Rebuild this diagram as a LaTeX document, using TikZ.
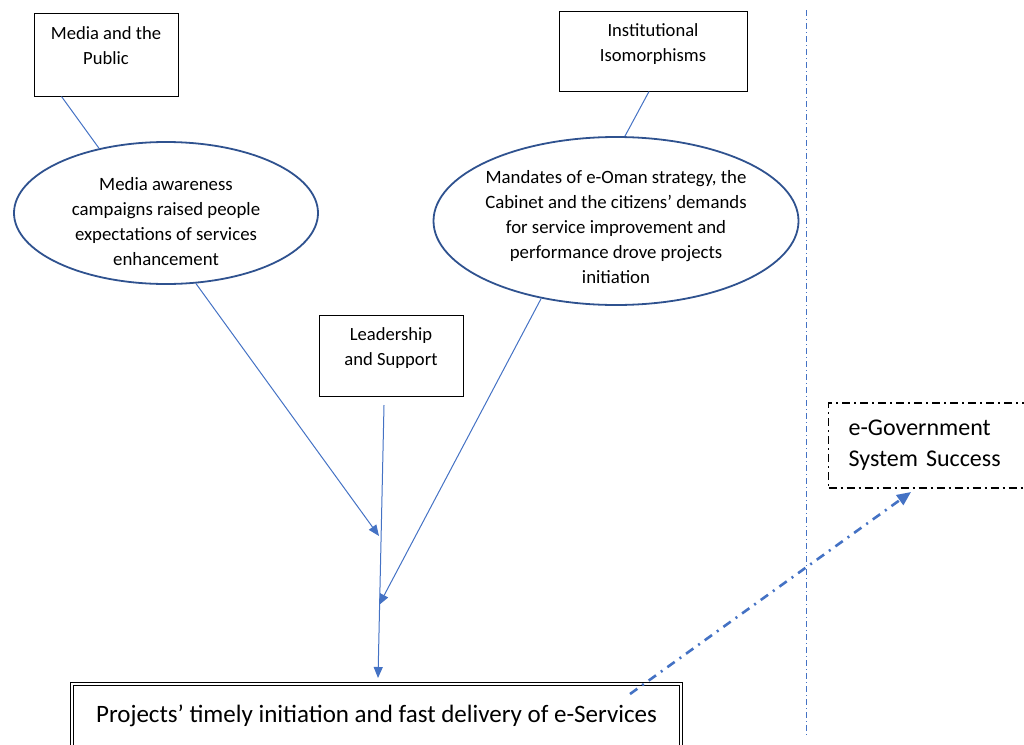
\documentclass[tikz,border=0pt]{standalone}
\usepackage{fontspec}
\setmainfont{Carlito}
\usetikzlibrary{shapes.geometric,arrows.meta}
\definecolor{linkblue}{HTML}{4472C4}
\definecolor{rimblue}{HTML}{2F528F}
\begin{document}
\begin{tikzpicture}[x=1pt,y=-1pt,
  factor/.style={draw=black,line width=1pt,fill=white,align=center,
    font=\fontsize{18.6}{25}\selectfont,inner sep=0pt},
  theme/.style={ellipse,draw=rimblue,line width=1.8pt,inner sep=0pt},
  themetext/.style={align=center,font=\fontsize{18.8}{25}\selectfont},
  link/.style={draw=linkblue,line width=1pt},
  linkarrow/.style={link,-{Triangle[length=11pt,width=9pt]}},
  outcome/.style={draw=black,line width=0.8pt,double,double distance=2pt,
    fill=white,font=\fontsize{25}{31}\selectfont,inner sep=0pt},
  success/.style={draw=black,line width=1.3pt,
    dash pattern=on 8pt off 4pt on 2pt off 4pt,
    font=\fontsize{24}{31}\selectfont,align=left,text width=180pt,
    inner xsep=20pt,inner ysep=0pt},
  boundary/.style={draw=linkblue,line width=0.9pt,
    dash pattern=on 6pt off 3pt on 1pt off 3pt},
  impact/.style={draw=linkblue,line width=2.6pt,
    dash pattern=on 9pt off 6pt on 2pt off 6pt,
    -{Triangle[length=14pt,width=12pt]}},
]
\useasboundingbox (0,0) rectangle (1024,744);
\clip (0,0) rectangle (1024,744);

% boundary of the system
\coordinate (bTop) at (806,10);
\coordinate (bBot) at (806,736);
\draw[boundary] (bTop) -- (bBot);

% contextual factors
\node[factor,minimum width=144pt,minimum height=83pt] (media) at (106,54.5)
  {Media and the\\Public\\[-8pt]~};
\node[factor,minimum width=188pt,minimum height=80pt] (inst) at (653,51)
  {Institutional\\Isomorphisms\\[-8pt]~};
\node[factor,minimum width=144pt,minimum height=81pt] (lead) at (391,355.5)
  {Leadership\\and Support\\[-8pt]~};

% themes
\node[theme,minimum width=304pt,minimum height=142pt] (e1) at (166,213) {};
\node[themetext] (e1t) at (166,221.5)
  {Media awareness\\campaigns raised people\\expectations of services\\enhancement};
\node[theme,minimum width=365pt,minimum height=168pt] (e2) at (616,221) {};
\node[themetext] (e2t) at (616,227)
  {Mandates of e-Oman strategy, the\\Cabinet and the citizens’ demands\\for service improvement and\\performance drove projects\\initiation};

% outcome
\node[outcome,minimum width=609pt,minimum height=64pt] (proj) at (376.5,716)
  {\raisebox{2.5pt}{Projects’ timely initiation and fast delivery of e-Services}};

% success box
\node[success,minimum height=85pt,anchor=west] (egov) at (828,445.5)
  {e-Government\\System Success};

% links from factors to themes
\draw[link] ([xshift=28pt]media.south west) -- (e1.136);
\draw[link] ([xshift=-4pt]inst.south) -- (e2.84);

% arrows into the outcome
\coordinate (t1) at (379,536);
\coordinate (t2) at (379,605);
\coordinate (l1) at (384,405);
\coordinate (l2) at (378,678);
\draw[linkarrow] (e1.-67) -- (t1);
\draw[linkarrow] (e2.-134.6) -- (t2);
\draw[linkarrow] (l1) -- (l2);

% outcome to success
\coordinate (i1) at (630,694);
\coordinate (i2) at (911,492);
\draw[impact] (i1) -- (i2);
\end{tikzpicture}
\end{document}
